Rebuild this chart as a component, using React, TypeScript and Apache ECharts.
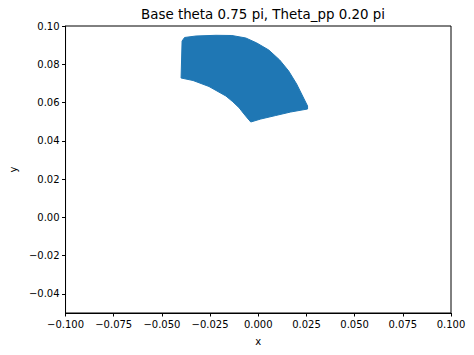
import React, { useEffect, useRef } from "react";
import * as echarts from "echarts";

const titleText = "Base theta 0.75 pi, Theta_pp 0.20 pi";
const xTicks = [-0.1, -0.075, -0.05, -0.025, 0, 0.025, 0.05, 0.075, 0.1];
const yTicks = [-0.04, -0.02, 0, 0.02, 0.04, 0.06, 0.08, 0.1];

// Outline of the filled scatter cloud (clockwise)
const shapeX = [
  -0.03953, -0.03824, -0.0323, -0.02196, -0.0137, -0.00646, -0.00078, 0.00543,
  0.01111, 0.01576, 0.0199, 0.023, 0.02558, 0.02558, 0.0168, 0.00904, 0.00129,
  -0.00388, -0.00569, -0.0078, -0.00982, -0.0132, -0.0168, -0.02558, -0.03385,
  -0.04005,
];
const shapeY = [
  0.09216, 0.09399, 0.09477, 0.09514, 0.09503, 0.09373, 0.09112, 0.08746,
  0.08223, 0.07649, 0.06969, 0.06341, 0.05819, 0.05662, 0.05505, 0.05322,
  0.05139, 0.04982, 0.05192, 0.0545, 0.05714, 0.0604, 0.06341, 0.06838,
  0.07152, 0.07282,
];

const FONT = "DejaVu Sans";

export default function App() {
  const ref = useRef<HTMLDivElement>(null);
  useEffect(() => {
    if (!ref.current) return;
    const chart = echarts.init(ref.current, null, { renderer: "svg" });
    const fmtMinus = (s: string) => s.replace("-", "\u2212");
    chart.setOption({
      animation: false,
      backgroundColor: "#fff",
      title: {
        text: titleText,
        left: 258,
        top: 3,
        textAlign: "center",
        textStyle: { fontFamily: FONT, fontSize: 13.4, fontWeight: "normal", color: "#000" },
      },
      grid: {
        left: 64,
        right: 23,
        top: 26,
        bottom: 42,
        show: true,
        borderColor: "#000",
        borderWidth: 1,
        backgroundColor: "transparent",
      },
      xAxis: {
        type: "value",
        min: -0.1,
        max: 0.1,
        name: "x",
        nameLocation: "middle",
        nameGap: 23,
        nameTextStyle: { fontFamily: FONT, fontSize: 10, color: "#000" },
        splitLine: { show: false },
        axisLine: { show: true, onZero: false, lineStyle: { color: "#000", width: 1 } },
        axisTick: { show: true, length: 3.5, customValues: xTicks, lineStyle: { color: "#000" } },
        axisLabel: {
          fontFamily: FONT,
          fontSize: 10,
          color: "#000",
          margin: 6,
          customValues: xTicks,
          formatter: (v: number) => fmtMinus(v.toFixed(3)),
        },
      },
      yAxis: {
        type: "value",
        min: -0.05,
        max: 0.1,
        name: "y",
        nameLocation: "middle",
        nameGap: 45,
        nameTextStyle: { fontFamily: FONT, fontSize: 10, color: "#000" },
        splitLine: { show: false },
        axisLine: { show: true, onZero: false, lineStyle: { color: "#000", width: 1 } },
        axisTick: { show: true, length: 3.5, customValues: yTicks, lineStyle: { color: "#000" } },
        axisLabel: {
          fontFamily: FONT,
          fontSize: 10,
          color: "#000",
          margin: 6,
          customValues: yTicks,
          formatter: (v: number) => fmtMinus(v.toFixed(2)),
        },
      },
      series: [
        {
          type: "custom",
          data: shapeX.map((x, i) => [x, shapeY[i]]),
          encode: { x: 0, y: 1 },
          renderItem: (params: any, api: any) => {
            if (params.dataIndex !== 0) return null;
            const pts = shapeX.map((x, i) => api.coord([x, shapeY[i]]));
            return {
              type: "polygon",
              shape: { points: pts },
              style: { fill: "#1f77b4", stroke: "#1f77b4", lineWidth: 1 },
            };
          },
        },
      ],
    });
    return () => chart.dispose();
  }, []);
  return <div ref={ref} style={{ width: 474, height: 355, margin: -8 }} />;
}
